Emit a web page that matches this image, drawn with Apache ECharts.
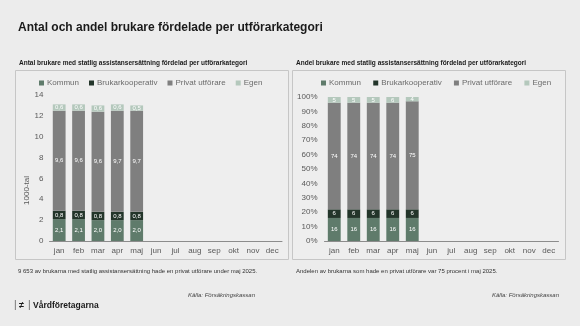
<!DOCTYPE html>
<html><head><meta charset="utf-8">
<script src="https://cdn.jsdelivr.net/npm/echarts@6/dist/echarts.min.js"></script>
<style>html,body{margin:0;padding:0;background:#ececec;}#c{width:580px;height:326px;}</style>
</head><body><div id="c"></div>
<script>
const months = ['jan','feb','mar','apr','maj','jun','jul','aug','sep','okt','nov','dec'];
const seriesNames = ['Kommun','Brukarkooperativ','Privat utförare','Egen'];
// Antal (1000-tal)
const antalKommun = [2.1, 2.1, 2.0, 2.0, 2.0];
const antalBruk = [0.8, 0.8, 0.8, 0.8, 0.8];
const antalPrivat = [9.6, 9.6, 9.6, 9.7, 9.7];
const antalEgen = [0.6, 0.6, 0.6, 0.6, 0.5];
// Andel (%)
const andelKommun = [16, 16, 16, 16, 16];
const andelBruk = [6, 6, 6, 6, 6];
const andelPrivat = [74, 74, 74, 74, 75];
const andelEgen = [5, 5, 5, 6, 4];
const colors = ['#5f7b6b', '#23352a', '#7f7f7f', '#b4c8bc'];
const FONT = 'Liberation Sans, Arial, sans-serif';

const chart = echarts.init(document.getElementById('c'), null, {renderer: 'canvas'});

function mk(name, data, idx, ax, fmt) {
  return {
    name: name, type: 'bar', stack: 's' + ax, xAxisIndex: ax, yAxisIndex: ax,
    data: data, barWidth: '66%', itemStyle: {color: colors[idx]},
    label: {show: true, position: 'inside', color: '#ffffff', fontSize: 6, fontFamily: FONT, formatter: fmt},
    silent: true, animation: false
  };
}
const fmtComma = p => String(p.value.toFixed(1)).replace('.', ',');
const fmtInt = p => String(p.value);

const legendBase = {
  itemWidth: 5, itemHeight: 5, itemGap: 10, icon: 'rect', padding: 0,
  textStyle: {fontSize: 8, color: '#6b6b6b', fontFamily: FONT, padding: [0, 0, 0, -2]},
  selectedMode: false
};

chart.setOption({
  backgroundColor: '#ececec',
  animation: false,
  textStyle: {fontFamily: FONT},
  title: [
    {text: 'Antal och andel brukare fördelade per utförarkategori', left: 18, top: 22, padding: 0,
      textStyle: {fontSize: 12, fontWeight: 'bold', color: '#1a1a1a', fontFamily: FONT}},
    {text: 'Antal brukare med statlig assistansersättning fördelad per utförarkategori', left: 19, top: 60, padding: 0,
      textStyle: {fontSize: 6.5, fontWeight: 'bold', color: '#1a1a1a', fontFamily: FONT}},
    {text: 'Andel brukare med statlig assistansersättning fördelad per utförarkategori', left: 296, top: 60, padding: 0,
      textStyle: {fontSize: 6.5, fontWeight: 'bold', color: '#1a1a1a', fontFamily: FONT}}
  ],
  graphic: [
    {type: 'rect', shape: {x: 15.5, y: 70.5, width: 273, height: 189}, style: {fill: '#eeeeee', stroke: '#c6c6c6', lineWidth: 1}, z: -10},
    {type: 'rect', shape: {x: 292.5, y: 70.5, width: 273, height: 189}, style: {fill: '#eeeeee', stroke: '#c6c6c6', lineWidth: 1}, z: -10},
    {type: 'text', left: 18, top: 268, style: {text: '9 653 av brukarna med statlig assistansersättning hade en privat utförare under maj 2025.', fontSize: 6, fill: '#333', fontFamily: FONT}},
    {type: 'text', left: 296, top: 268, style: {text: 'Andelen av brukarna som hade en privat utförare var 75 procent i maj 2025.', fontSize: 6, fill: '#333', fontFamily: FONT}},
    {type: 'text', right: 325, top: 292, style: {text: 'Källa: Försäkringskassan', fontSize: 6, fontStyle: 'italic', fill: '#444', fontFamily: FONT}},
    {type: 'text', right: 21, top: 292, style: {text: 'Källa: Försäkringskassan', fontSize: 6, fontStyle: 'italic', fill: '#444', fontFamily: FONT}},
    {type: 'text', left: 14, top: 300, style: {text: '|', fontSize: 10, fill: '#666', fontFamily: FONT}},
    {type: 'text', left: 19, top: 301, style: {text: '≠', fontSize: 9, fontWeight: 'bold', fill: '#1a1a1a', fontFamily: FONT}},
    {type: 'text', left: 28, top: 300, style: {text: '|', fontSize: 10, fill: '#666', fontFamily: FONT}},
    {type: 'text', left: 33, top: 301, style: {text: 'Vårdföretagarna', fontSize: 8.5, fontWeight: 'bold', fill: '#1a1a1a', fontFamily: FONT}},
    {type: 'text', left: 23, top: 176, rotation: Math.PI / 2, style: {text: '1000-tal', fontSize: 8, fill: '#595959', fontFamily: FONT, align: 'center', verticalAlign: 'middle'}}
  ],
  legend: [
    Object.assign({}, legendBase, {left: 39, top: 79, data: seriesNames.map(n => ({name: n}))}),
    Object.assign({}, legendBase, {left: 321, top: 79, data: seriesNames.map(n => ({name: n + ' '}))})
  ],
  grid: [
    {left: 49.5, width: 232.5, top: 95, height: 146},
    {left: 324.5, width: 234, top: 97, height: 144}
  ],
  xAxis: [0, 1].map(i => ({
    type: 'category', gridIndex: i, data: months,
    axisLine: {lineStyle: {color: '#8c8c8c', width: 1}}, axisTick: {show: false},
    axisLabel: {fontSize: 8, color: '#595959', margin: 6, fontFamily: FONT}
  })),
  yAxis: [
    {type: 'value', gridIndex: 0, min: 0, max: 14, interval: 2, splitLine: {show: false},
      axisLine: {show: false}, axisTick: {show: false},
      axisLabel: {fontSize: 8, color: '#595959', margin: 6, fontFamily: FONT}},
    {type: 'value', gridIndex: 1, min: 0, max: 100, interval: 10, splitLine: {show: false},
      axisLine: {show: false}, axisTick: {show: false},
      axisLabel: {fontSize: 8, color: '#595959', margin: 7, fontFamily: FONT, formatter: '{value}%'}}
  ],
  series: [
    mk('Kommun', antalKommun, 0, 0, fmtComma),
    mk('Brukarkooperativ', antalBruk, 1, 0, fmtComma),
    mk('Privat utförare', antalPrivat, 2, 0, fmtComma),
    mk('Egen', antalEgen, 3, 0, fmtComma),
    mk('Kommun ', andelKommun, 0, 1, fmtInt),
    mk('Brukarkooperativ ', andelBruk, 1, 1, fmtInt),
    mk('Privat utförare ', andelPrivat, 2, 1, fmtInt),
    mk('Egen ', andelEgen, 3, 1, fmtInt)
  ]
});
</script></body></html>
